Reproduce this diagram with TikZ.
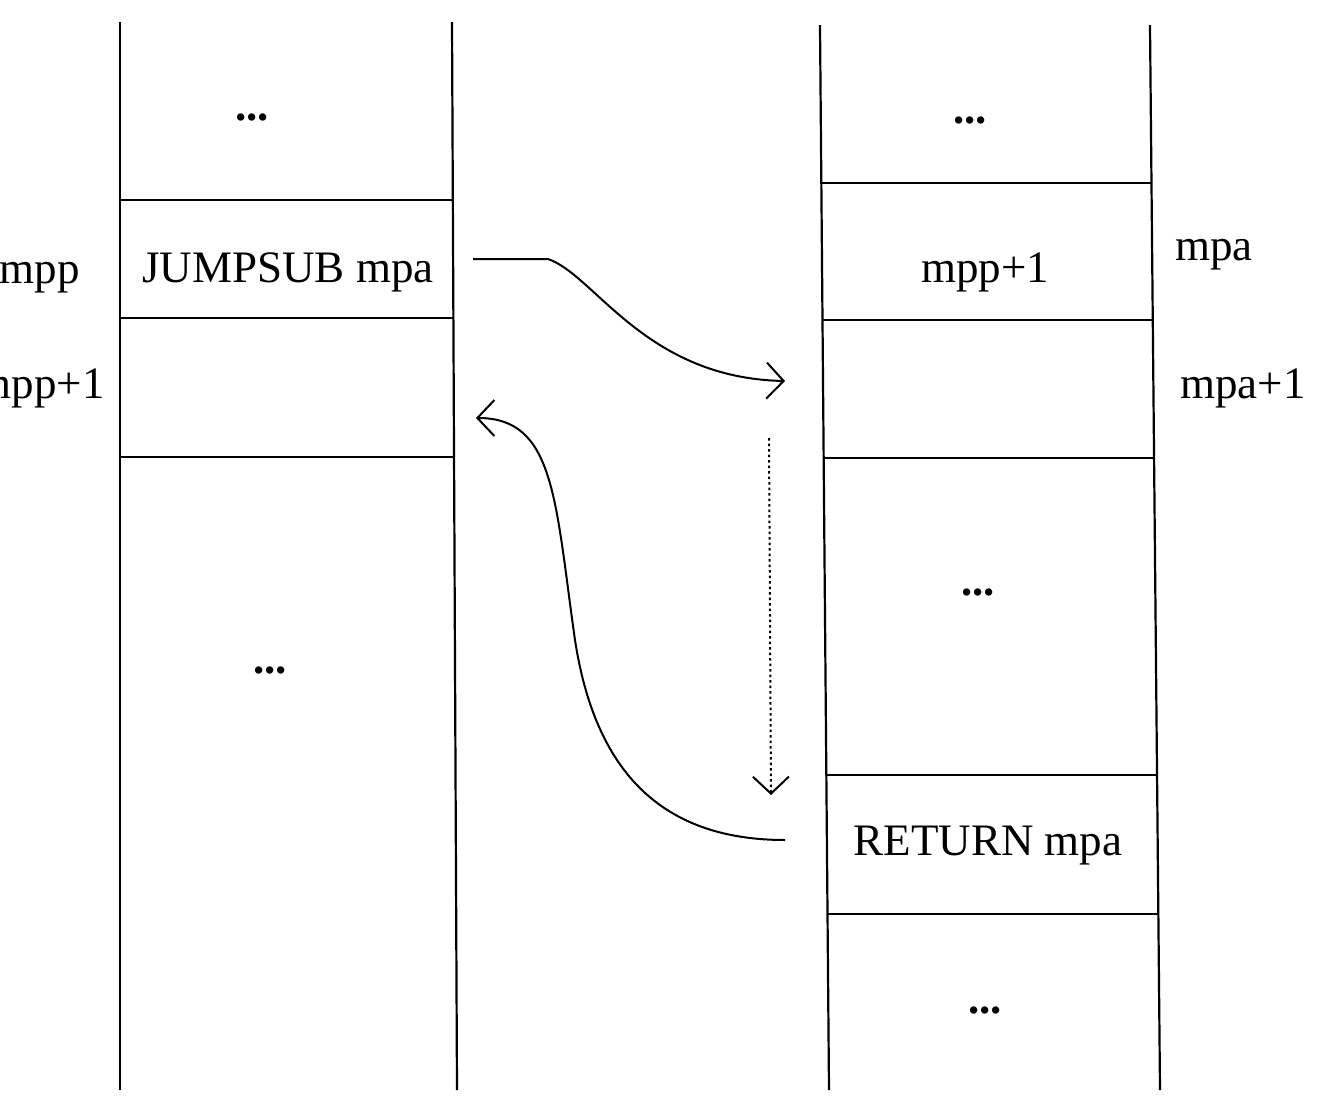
\documentclass[tikz,border=0pt]{standalone}
\usepackage{fontspec}
\setmainfont{Liberation Serif}
\usetikzlibrary{arrows.meta}
\begin{document}
\begin{tikzpicture}[x=1pt,y=-1pt,
  rule/.style={line width=2.2pt,black},
  txt/.style={inner sep=0pt,font=\fontsize{45}{54}\selectfont},
  dots/.style={inner sep=0pt,font=\fontsize{45}{54}\selectfont\bfseries},
  flow/.style={line width=2pt,-{Straight Barb[length=17pt,width=36pt,line width=2pt]}}]
\clip (0,0) rectangle (1318,1117);
\fill[white] (0,0) rectangle (1318,1117);
% left column
\draw[rule] (120,22) -- (120,1090);
\draw[rule] (452,22) -- (457,1090);
\draw[rule] (120,200) -- (453,200);
\draw[rule] (120,318) -- (454,318);
\draw[rule] (120,457) -- (454,457);
% right column
\draw[rule] (820,25) -- (829,1090);
\draw[rule] (1150,25) -- (1160,1090);
\draw[rule] (822,183) -- (1152,183);
\draw[rule] (823,320) -- (1153,320);
\draw[rule] (824,458) -- (1154,458);
\draw[rule] (827,775) -- (1157,775);
\draw[rule] (828,914) -- (1158,914);
% left texts
\node[dots] (ld1) at (252,117) {...};
\node[txt,anchor=base] (jump) at (288,282) {JUMPSUB mpa};
\node[dots] (ld2) at (270,670) {...};
\node[txt,anchor=base east] (mpp) at (80,283) {mpp};
\node[txt,anchor=base east] (mpp1) at (105,398) {mpp+1};
% right texts
\node[dots] (rd1) at (970,120) {...};
\node[txt,anchor=base] (rmpp) at (985,282) {mpp+1};
\node[dots] (rd2) at (978,592) {...};
\node[txt,anchor=base] (ret) at (988,855) {RETURN mpa};
\node[dots] (rd3) at (985,1010) {...};
\node[txt,anchor=base west] (mpa) at (1175,260) {mpa};
\node[txt,anchor=base west] (mpa1) at (1180,398) {mpa+1};
% connectors
\coordinate (js) at (473,259);
\coordinate (je) at (785,381);
\coordinate (rs) at (785,840);
\coordinate (re) at (476,418);
\coordinate (ds) at (769,438);
\coordinate (de) at (771,795);
\draw[flow] (js) -- (548,259) .. controls (595,275) and (645,378) .. (je);
\draw[flow] (rs) .. controls (660,840) and (595,770) .. (575,640)
   .. controls (555,500) and (555,418) .. (re);
\draw[flow,dash pattern=on 2.5pt off 3pt] (ds) -- (de);
\end{tikzpicture}
\end{document}
